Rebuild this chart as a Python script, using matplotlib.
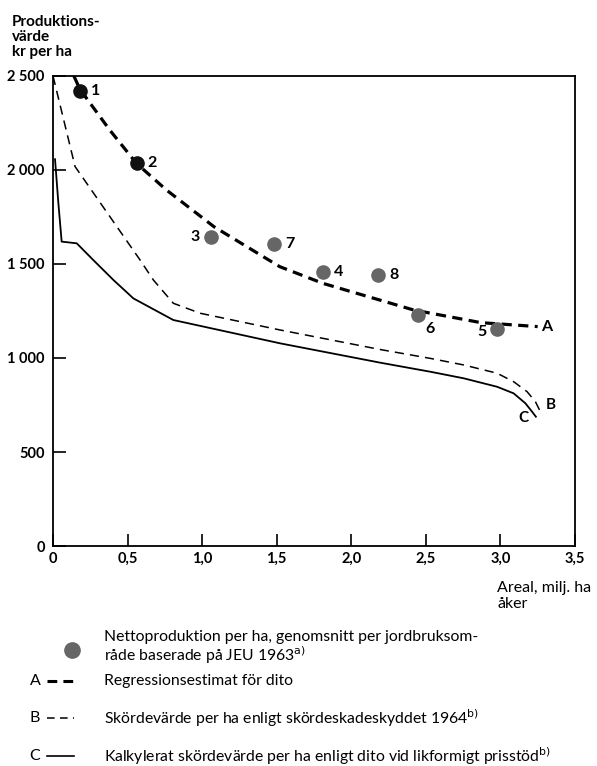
import matplotlib
matplotlib.use("Agg")
import matplotlib.pyplot as plt
from matplotlib.lines import Line2D

plt.rcParams['font.family'] = ['Lato', 'DejaVu Sans']

# punkter (jordbruksomraden)
pt_labels = ['1', '2', '3', '4', '5', '6', '7', '8']
pt_x = [0.18, 0.56, 1.06, 1.81, 2.98, 2.45, 1.48, 2.18]
pt_y = [2420, 2035, 1645, 1460, 1153, 1229, 1605, 1441]
pt_dark = [True, True, False, False, False, False, False, False]

# kurva A - regressionsestimat
a_x = [0.14, 0.18, 0.38, 0.56, 0.76, 1.08, 1.52, 1.81, 2.42, 2.87, 3.25]
a_y = [2500, 2430, 2213, 2035, 1894, 1698, 1486, 1397, 1255, 1188, 1167]

# kurva B - skordevarde enl. skordeskadeskyddet
b_x = [0.0, 0.148, 0.584, 0.673, 0.807, 0.987, 1.523, 2.195, 2.53, 2.754, 2.978,
       3.089, 3.179, 3.235, 3.268, 3.28]
b_y = [2500, 2018, 1521, 1415, 1291, 1238, 1149, 1045, 998, 963, 919,
       874, 821, 768, 715, 700]

# kurva C - kalkylerat skordevarde
c_x = [0.013, 0.036, 0.058, 0.159, 0.27, 0.405, 0.539, 0.807, 1.523, 2.195, 2.53,
       2.754, 2.978, 3.089, 3.168, 3.213, 3.242]
c_y = [2062, 1823, 1619, 1610, 1521, 1415, 1317, 1202, 1078, 975, 927,
       892, 847, 812, 759, 714, 684]

x_ticks = [0, 0.5, 1.0, 1.5, 2.0, 2.5, 3.0, 3.5]
x_ticklabels = ['0', '0,5', '1,0', '1,5', '2,0', '2,5', '3,0', '3,5']
y_ticks = [0, 500, 1000, 1500, 2000, 2500]
y_ticklabels = ['0', '500', '1 000', '1 500', '2 000', '2 500']

fig = plt.figure(figsize=(5.97, 7.66), dpi=100)
ax = fig.add_axes([0.0888, 0.2872, 0.8742, 0.6136])

ax.plot(c_x, c_y, color='black', lw=1.3, solid_capstyle='butt')
ax.plot(b_x, b_y, color='black', lw=1.1, dashes=(6, 4))
ax.plot(a_x, a_y, color='black', lw=2.3, dashes=(3.2, 2.0))

for lab, x, y, dark in zip(pt_labels, pt_x, pt_y, pt_dark):
    col = '#111111' if dark else '#666666'
    ax.plot(x, y, 'o', ms=9.5, color=col, zorder=5)

offs = {'1': (8, 0, 'left'), '2': (8, 0, 'left'), '3': (-8, 0, 'right'),
        '4': (8, 0, 'left'), '5': (-8, -2, 'right'), '6': (5, -10, 'left'),
        '7': (8, 0, 'left'), '8': (8, 0, 'left')}
for lab, x, y in zip(pt_labels, pt_x, pt_y):
    dx, dy, ha = offs[lab]
    ax.annotate(lab, (x, y), xytext=(dx, dy), textcoords='offset points',
                ha=ha, va='center', fontsize=11.5, fontweight='bold')

ax.text(3.31, 1165, 'A', ha='center', va='center', fontsize=11.5, fontweight='bold')
ax.text(3.336, 750, 'B', ha='center', va='center', fontsize=11, fontweight='bold')
ax.text(3.156, 679, 'C', ha='center', va='center', fontsize=11, fontweight='bold')

ax.set_xlim(0, 3.5)
ax.set_ylim(0, 2500)
ax.set_xticks(x_ticks)
ax.set_xticklabels(x_ticklabels, fontweight='bold')
ax.set_yticks(y_ticks)
ax.set_yticklabels(y_ticklabels, fontweight='bold')
ax.tick_params(direction='in', length=9, width=1.2, labelsize=10.5, pad=4)
ax.tick_params(axis='y', pad=6)
for s in ax.spines.values():
    s.set_linewidth(1.3)

fig.text(12 / 597, 1 - 15 / 766, 'Produktions-\nvärde\nkr per ha', ha='left', va='top',
         fontsize=11, fontweight='bold', linespacing=1.1)
fig.text(497 / 597, 1 - 581 / 766, 'Areal, milj. ha\nåker', ha='left', va='top',
         fontsize=11.5, linespacing=1.15)

# legend
fig.add_artist(Line2D([72 / 597], [1 - 650 / 766], marker='o', ms=11,
                      color='#666666', transform=fig.transFigure))
fig.text(104 / 597, 1 - 648 / 766,
         'Nettoproduktion per ha, genomsnitt per jordbruksom-\nråde baserade på JEU 1963$^{\\rm a)}$',
         ha='left', va='center', fontsize=11.3, linespacing=1.05)

rows = [('A', 681, dict(lw=2.2, dashes=(3.2, 2.0)), 'Regressionsestimat för dito'),
        ('B', 718, dict(lw=1.1, dashes=(5, 3.5)), 'Skördevärde per ha enligt skördeskadeskyddet 1964$^{\\rm b)}$'),
        ('C', 756, dict(lw=1.2), 'Kalkylerat skördevärde per ha enligt dito vid likformigt prisstöd$^{\\rm b)}$')]
for letter, py, style, txt in rows:
    yy = 1 - py / 766
    fig.text(35 / 597, yy, letter, ha='center', va='center', fontsize=11.5)
    fig.add_artist(Line2D([47 / 597, 74 / 597], [yy, yy], color='black',
                          transform=fig.transFigure, **style))
    fig.text(104 / 597, yy, txt, ha='left', va='center', fontsize=11.3)

fig.savefig('out.png', dpi=100)
